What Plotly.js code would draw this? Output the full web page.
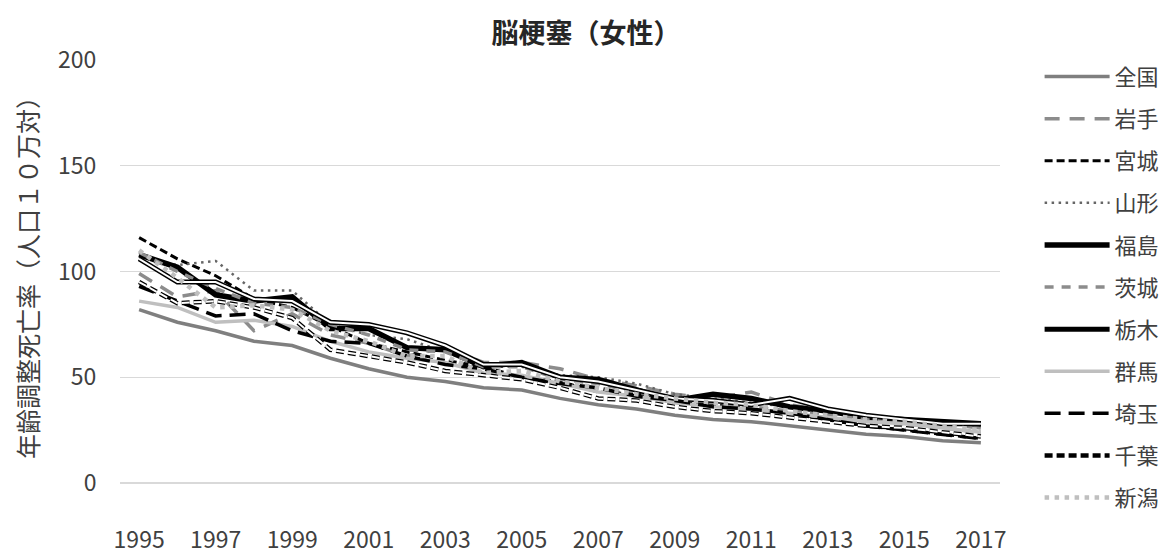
<!DOCTYPE html>
<html>
<head>
<meta charset="utf-8">
<script src="https://cdn.plot.ly/plotly-3.0.1.min.js"></script>
<style>html,body{margin:0;padding:0;background:#fff;}#chart{width:1172px;height:557px;}</style>
</head>
<body>
<div id="chart"></div>
<script>
const years = [1995,1996,1997,1998,1999,2000,2001,2002,2003,2004,2005,2006,2007,2008,2009,2010,2011,2012,2013,2014,2015,2016,2017];
const xTicks = [1995,1997,1999,2001,2003,2005,2007,2009,2011,2013,2015,2017];

const zenkoku = [82,76,72,67,65,59,54,50,48,45,44,40,37,35,32,30,29,27,25,23,22,20,19];
const iwate   = [99,88,91,72,80,70,66,60,64,57,57,54,49,46,42,40,43,37,34,32,30,28,26];
const miyagi  = [116,106,98,87,83,74,66,62,58,55,50,48,43,42,38,37,35,33,30,27,25,23,21];
const yamagata= [107,103,105,91,91,75,70,68,62,55,55,51,50,47,42,40,38,36,34,31,30,28,27];
const fukushima=[108,102,89,86,88,73,73,64,63,55,57,50,49,44,39,42,40,36,34,31,30,29,28];
const ibaraki = [109,100,92,85,83,75,70,63,62,55,55,49,47,43,40,38,36,34,32,30,28,26,24];
const tochigi = [106,95,95,87,86,76,75,71,65,56,56,50,48,44,40,39,37,40,35,32,30,28,28];
const gunma   = [86,83,76,77,74,67,62,59,57,52,51,47,43,41,38,36,35,33,31,29,28,26,24];
const saitama = [93,86,79,80,72,67,66,60,56,54,50,47,45,41,39,36,35,33,30,27,25,23,21];
const chiba   = [95,85,86,83,78,63,60,57,53,51,49,45,40,39,36,34,33,31,29,27,26,24,22];
const niigata = [110,97,83,84,82,72,67,60,60,52,53,48,45,42,40,38,37,34,32,30,29,27,25];

function tr(name, y, color, width, dash, show, group) {
  return {x: years, y: y, type: 'scatter', mode: 'lines', name: name,
          legendgroup: group || name, showlegend: show !== false,
          line: {color: color, width: width, dash: dash || 'solid'}, hoverinfo: 'skip'};
}

const data = [
  tr('全国', zenkoku, '#7f7f7f', 3.5),
  tr('岩手', iwate, '#8c8c8c', 3.5, '15px,10px'),
  tr('宮城', miyagi, '#000000', 3, '8px,4px'),
  tr('山形', yamagata, '#666666', 2.5, '2.5px,4.5px'),
  tr('福島', fukushima, '#000000', 5.5),
  tr('茨城', ibaraki, '#8c8c8c', 3.5, '9px,8px'),
  tr('栃木', tochigi, '#000000', 5),
  tr('栃木', tochigi, '#ffffff', 2, 'solid', false, '栃木'),
  tr('群馬', gunma, '#bfbfbf', 3.5),
  tr('埼玉', saitama, '#000000', 3.5, '16px,8px'),
  tr('千葉', chiba, '#000000', 4.5, '8px,4px'),
  tr('千葉', chiba, '#ffffff', 2, '8px,4px', false, '千葉'),
  tr('新潟', niigata, '#bfbfbf', 4.5, '4.5px,5.5px')
];

const font = 'Noto Sans CJK JP, Noto Sans, sans-serif';
const layout = {
  width: 1172, height: 557,
  margin: {l: 120, r: 172, t: 60, b: 74, autoexpand: false},
  paper_bgcolor: '#ffffff', plot_bgcolor: '#ffffff',
  font: {family: font, color: '#404040', size: 23},
  title: {text: '<b>脳梗塞（女性）</b>', font: {family: font, size: 27, color: '#262626'},
          x: 0.5, xanchor: 'center', y: 0.94, yanchor: 'middle'},
  xaxis: {range: [1994.5, 2017.5], tickmode: 'array', tickvals: xTicks, ticktext: xTicks.map(String),
          showgrid: false, zeroline: false, showline: false,
          ticks: 'outside', ticklen: 36, tickcolor: 'rgba(0,0,0,0)',
          tickfont: {size: 23, color: '#404040'}, fixedrange: true},
  yaxis: {range: [0, 200], tickmode: 'linear', tick0: 0, dtick: 50,
          showgrid: true, gridcolor: '#d9d9d9', gridwidth: 1.3,
          zeroline: true, zerolinecolor: '#d9d9d9', zerolinewidth: 1.3, showline: false,
          ticks: 'outside', ticklen: 18, tickcolor: 'rgba(0,0,0,0)',
          tickfont: {size: 23, color: '#404040'},
          title: {text: '年齢調整死亡率（人口１０万対）', font: {size: 25, color: '#404040'}, standoff: 12},
          fixedrange: true},
  legend: {x: 1.045, xanchor: 'left', y: 1.01, yanchor: 'top',
           font: {size: 22, color: '#404040'}, tracegroupgap: 10.5, itemwidth: 65,
           maxheight: 560,
           bgcolor: 'rgba(0,0,0,0)', traceorder: 'grouped'},
  showlegend: true
};

Plotly.newPlot('chart', data, layout, {staticPlot: true, displayModeBar: false});
</script>
</body>
</html>
